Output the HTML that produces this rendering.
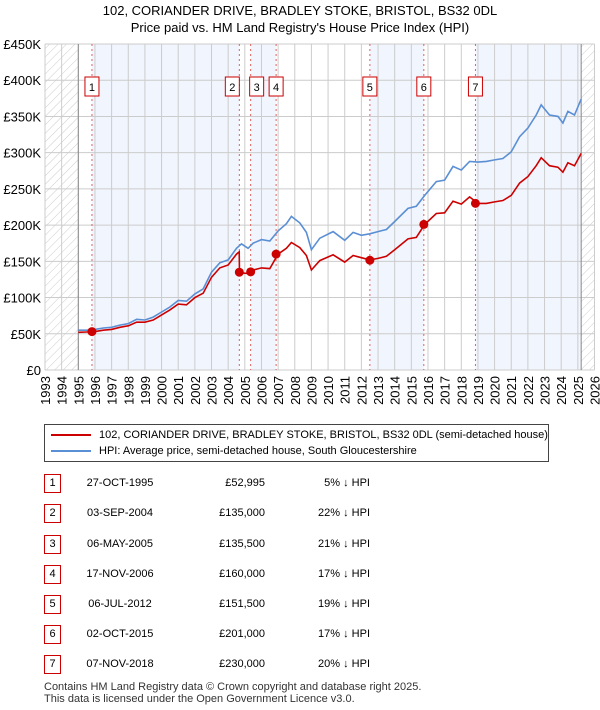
<!DOCTYPE html>
<html><head><meta charset="utf-8"><style>
body{margin:0;background:#fff;font-family:"Liberation Sans","DejaVu Sans",sans-serif;}
#wrap{position:relative;width:600px;height:710px;overflow:hidden;}
.row{position:absolute;left:0;width:600px;font-size:11px;color:#000;}
.num{position:absolute;left:44px;width:15px;height:17px;border:1px solid #c00;text-align:center;line-height:17px;font-size:11px;}
</style></head><body><div id="wrap">
<svg id="chart" width="600" height="420" style="position:absolute;left:0;top:0">
<defs><pattern id="hatch" width="6" height="6" patternUnits="userSpaceOnUse" patternTransform="rotate(45)"><line x1="0" y1="0" x2="0" y2="6" stroke="#ccc" stroke-width="1"/></pattern></defs>
<text x="300" y="15" text-anchor="middle" font-size="13">102, CORIANDER DRIVE, BRADLEY STOKE, BRISTOL, BS32 0DL</text>
<text x="300" y="32" text-anchor="middle" font-size="13">Price paid vs. HM Land Registry's House Price Index (HPI)</text>
<g id="g"></g>
</svg>
<div style="position:absolute;left:44px;top:424px;width:503px;height:36px;border:1px solid #444;font-size:11px">
<div style="position:absolute;left:6px;top:4px"><span style="display:inline-block;width:40px;height:2px;background:#c00;vertical-align:middle;margin-right:8px"></span>102, CORIANDER DRIVE, BRADLEY STOKE, BRISTOL, BS32 0DL (semi-detached house)</div>
<div style="position:absolute;left:6px;top:20px"><span style="display:inline-block;width:40px;height:2px;background:#5b8fd4;vertical-align:middle;margin-right:8px"></span>HPI: Average price, semi-detached house, South Gloucestershire</div>
</div>
<div id="table"></div>
<div style="position:absolute;left:44px;top:681px;font-size:11px;color:#333;line-height:12px">Contains HM Land Registry data © Crown copyright and database right 2025.<br>This data is licensed under the Open Government Licence v3.0.</div>
</div>
<script>
const hpiT=[1995.0,1995.5,1996,1996.5,1997,1997.5,1998,1998.5,1999,1999.5,2000,2000.5,2001,2001.5,2002,2002.5,2003,2003.5,2004,2004.5,2004.8,2005.2,2005.5,2006,2006.5,2007,2007.5,2007.8,2008.3,2008.7,2009.0,2009.5,2010.3,2011,2011.5,2012,2012.5,2013,2013.5,2014,2014.8,2015.3,2015.8,2016.5,2017,2017.5,2018,2018.5,2019,2019.5,2020,2020.5,2021,2021.5,2022,2022.5,2022.8,2023.3,2023.8,2024.1,2024.4,2024.8,2025.2];
const hpiV=[55,55,56,58,59,62,64,70,69,73,80,87,96,95,105,112,135,148,152,168,174,168,175,180,178,192,202,212,203,190,166,182,191,179,190,186,188,191,194,205,223,226,241,260,262,281,276,288,287,288,290,292,301,322,334,352,366,352,350,341,357,352,374];
const redT=[1995.0,1995.5,1996,1996.5,1997,1997.5,1998,1998.5,1999,1999.5,2000,2000.5,2001,2001.5,2002,2002.5,2003,2003.5,2004,2004.5,2004.66,2004.68,2004.8,2005.2,2005.5,2006,2006.5,2007,2007.5,2007.8,2008.3,2008.7,2009.0,2009.5,2010.3,2011,2011.5,2012,2012.5,2013,2013.5,2014,2014.8,2015.3,2015.8,2016.5,2017,2017.5,2018,2018.5,2019,2019.5,2020,2020.5,2021,2021.5,2022,2022.5,2022.8,2023.3,2023.8,2024.1,2024.4,2024.8,2025.2];
const redV=[52,52.5,53,55,56,59,61,66,66,69,76,83,91,90,100,106,128,141,145,160,163,135,134,133,138,141,140,160,168,176,169,158,138,151,159,149,158,155,152,154,157,166,181,183,201,216,217,233,229,239,230,230,232,234,241,258,267,282,293,282,280,273,286,282,299];
const saleT=[1995.82,2004.67,2005.35,2006.88,2012.51,2015.75,2018.85];
const saleV=[52.995,135,135.5,160,151.5,201,230];
const saleDates=["27-OCT-1995","03-SEP-2004","06-MAY-2005","17-NOV-2006","06-JUL-2012","02-OCT-2015","07-NOV-2018"];
const salePrices=["£52,995","£135,000","£135,500","£160,000","£151,500","£201,000","£230,000"];
const salePct=["5% ↓ HPI","22% ↓ HPI","21% ↓ HPI","17% ↓ HPI","19% ↓ HPI","17% ↓ HPI","20% ↓ HPI"];
const yTicks=[0,50,100,150,200,250,300,350,400,450];
const yLabels=["£0","£50K","£100K","£150K","£200K","£250K","£300K","£350K","£400K","£450K"];
const xYears=[1993,1994,1995,1996,1997,1998,1999,2000,2001,2002,2003,2004,2005,2006,2007,2008,2009,2010,2011,2012,2013,2014,2015,2016,2017,2018,2019,2020,2021,2022,2023,2024,2025,2026];
const X=t=>45+(t-1993)*(549.5/33), Y=v=>370-v*(326/450);
const NS="http://www.w3.org/2000/svg", g=document.getElementById('g');
function el(tag,a,p){const e=document.createElementNS(NS,tag);for(const k in a)e.setAttribute(k,a[k]);(p||g).appendChild(e);return e;}
// shading
const bounds=[1995.0].concat(saleT).concat([2025.2]);
for(let i=0;i<bounds.length-1;i++){ if(i%2==1){const r=el('rect',{x:X(bounds[i]),y:Y(450),width:X(bounds[i+1])-X(bounds[i]),height:Y(0)-Y(450),fill:'#eef3fc',opacity:0.8});

}}
let h1=el('rect',{x:X(1993),y:Y(450),width:X(1995)-X(1993),height:Y(0)-Y(450),fill:'url(#hatch)'});


let h2=el('rect',{x:X(2025.2),y:Y(450),width:X(2026)-X(2025.2),height:Y(0)-Y(450),fill:'url(#hatch)'});


yTicks.forEach((v,i)=>{el('line',{x1:X(1993),x2:X(2026),y1:Y(v),y2:Y(v),stroke:'#ccc'});
const t=el('text',{x:41,y:Y(v)+5,'text-anchor':'end','font-size':13});t.textContent=yLabels[i];

});
xYears.forEach(y=>{el('line',{x1:X(y),x2:X(y),y1:Y(450),y2:Y(0),stroke:'#ccc'});
const t=el('text',{transform:`translate(${X(y)+5},${376}) rotate(-90)`,'text-anchor':'end','font-size':13});t.textContent=y;

});
el('line',{x1:X(1995),x2:X(1995),y1:Y(450),y2:Y(0),stroke:'#888'});
el('line',{x1:X(2025.2),x2:X(2025.2),y1:Y(450),y2:Y(0),stroke:'#888'});
saleT.forEach((t,i)=>{el('line',{x1:X(t),x2:X(t),y1:Y(450),y2:Y(0),stroke:'#e06060','stroke-dasharray':'2,3'});});
const line=(T,V,c,n)=>{const p=el('path',{d:T.map((t,i)=>(i?'L':'M')+X(t).toFixed(1)+','+Y(V[i]).toFixed(1)).join(''),fill:'none',stroke:c,'stroke-width':1.6});

};
line(hpiT,hpiV,'#5b8fd4','hpi-line');
line(redT,redV,'#cc0000','price-paid-line');
saleT.forEach((t,i)=>{const c=el('circle',{cx:X(t),cy:Y(saleV[i]),r:4.5,fill:'#cc0000'});


const bx=X(t)-(i==1?14:(i==2?1:7)), b=el('rect',{x:bx,y:77,width:14,height:19,fill:'#fff',stroke:'#c00'});


const tx=el('text',{x:bx+7,y:91,'text-anchor':'middle','font-size':11});tx.textContent=i+1;});
// table
const tb=document.getElementById('table');
const rowY=[474,504,535,565,595,625,655];
saleDates.forEach((d,i)=>{const r=document.createElement('div');r.className='row';r.style.top=rowY[i]+'px';


r.innerHTML=`<div class="num">${i+1}</div><div style="position:absolute;left:70px;width:100px;text-align:center;top:3px">${d}</div><div style="position:absolute;left:180px;width:85px;text-align:right;top:3px">${salePrices[i]}</div><div style="position:absolute;left:280px;width:90px;text-align:right;top:3px">${salePct[i]}</div>`;
tb.appendChild(r);});
</script>
</body></html>
